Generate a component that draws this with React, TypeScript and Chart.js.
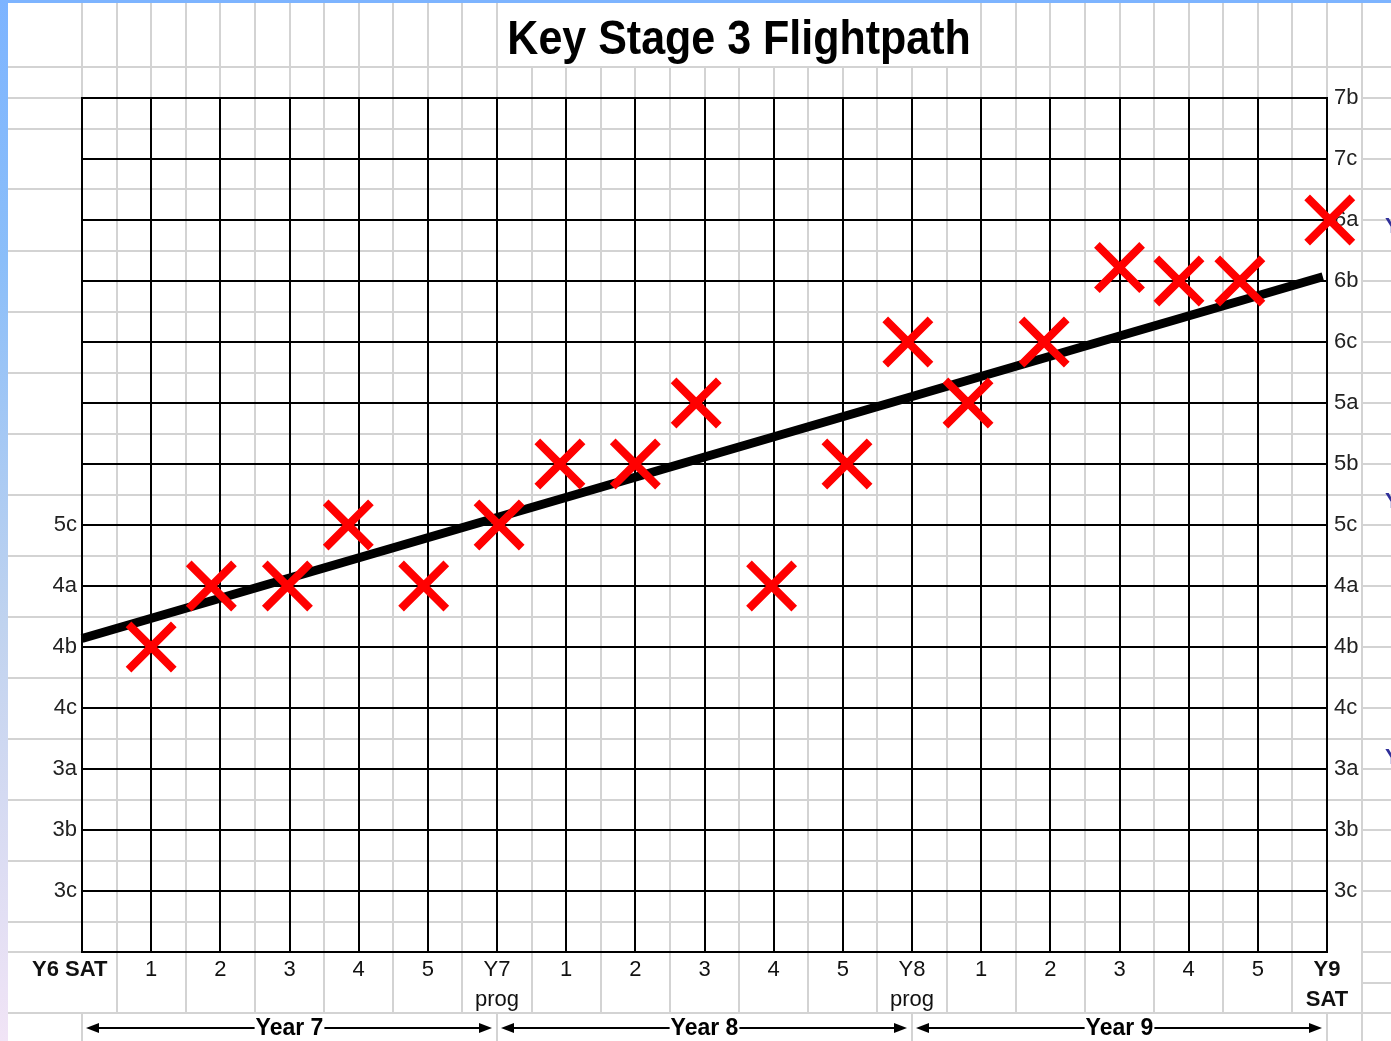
import React, { useEffect, useRef } from 'react';
import { Chart, registerables } from 'chart.js';

Chart.register(...registerables);

// ---------- data ----------
const chartTitle = 'Key Stage 3 Flightpath';
const xTickLabels: (string | string[])[] = [
  'Y6 SAT    ', '1', '2', '3', '4', '5', ['Y7', 'prog'],
  '1', '2', '3', '4', '5', ['Y8', 'prog'],
  '1', '2', '3', '4', '5', ['Y9', 'SAT'],
];
const boldTickIndexes = [0, 18];
// level label for each y gridline value (0 = bottom line)
const levelLabels = ['', '3c', '3b', '3a', '4c', '4b', '4a', '5c', '5b', '5a', '6c', '6b', '6a', '7c', '7b'];
const leftAxisMaxLevel = 7;
const assessmentX = [1.0, 1.87, 2.97, 3.85, 4.94, 6.03, 6.91, 8.0, 8.88, 9.97, 11.06, 11.94, 12.81, 13.91, 15.0, 15.86, 16.74, 18.04];
const assessmentY = [5, 6, 6, 7, 6, 7, 8, 8, 9, 6, 8, 10, 9, 10, 11.22, 11, 11, 12];
const targetX = [0, 17.94];
const targetY = [5.14, 11.07];
const yearBandLabels = ['Year 7', 'Year 8', 'Year 9'];
const yearBandStarts = [0, 6, 12];
const yearBandEnds = [6, 12, 18];

const FONT = "'Liberation Sans', Arial, Helvetica, sans-serif";

const sheetPlugin = {
  id: 'sheetBackground',
  beforeDraw(chart: any) {
    const { ctx, width, height } = chart;
    const xs = chart.scales.x;
    const ys = chart.scales.y;
    const X = (v: number) => xs.getPixelForValue(v);
    const Y = (v: number) => ys.getPixelForValue(v);
    ctx.save();
    ctx.fillStyle = '#ffffff';
    ctx.fillRect(0, 0, width, height);
    ctx.strokeStyle = '#d3d3d3';
    ctx.lineWidth = 2;
    const seg = (x1: number, y1: number, x2: number, y2: number) => {
      ctx.beginPath();
      ctx.moveTo(x1, y1);
      ctx.lineTo(x2, y2);
      ctx.stroke();
    };
    const titleL = X(6);
    const titleR = X(13);
    const topRowBottom = Y(14.5);
    const labelTop = Y(0);
    const labelBottom = Y(-1);
    // vertical sheet lines
    for (let i = 0; i < 200; i++) {
      const v = i / 2;
      const px = Math.round(X(v));
      if (px > width + 2) break;
      const isInt = i % 2 === 0;
      const inTitle = px > titleL + 2 && px < titleR - 2;
      const top = inTitle ? topRowBottom : 0;
      if (v > 18) {
        seg(px, top, px, height);
        continue;
      }
      if (isInt) {
        seg(px, top, px, labelTop);
        if (v % 6 === 0) seg(px, labelBottom, px, height);
      } else {
        seg(px, top, px, labelBottom);
      }
    }
    // horizontal sheet lines
    const x0 = X(0);
    const x18 = X(18);
    const x185 = X(18.5);
    for (let j = 0; j < 200; j++) {
      const w = 14.5 - j / 2;
      const py = Math.round(Y(w));
      if (py > height + 2) break;
      const isInt = Number.isInteger(w);
      if ((!isInt && w >= 0) || w === 0 || w === 14 || w === -1) seg(0, py, x0, py);
      if (w !== -0.5) seg(x0, py, x18, py);
      if ((!isInt && w >= 0) || w === -1) seg(x18, py, x185, py);
      seg(x185, py, width, py);
    }
    ctx.restore();
  },
  afterDraw(chart: any) {
    const { ctx, width, height } = chart;
    const xs = chart.scales.x;
    const ys = chart.scales.y;
    const X = (v: number) => xs.getPixelForValue(v);
    const Y = (v: number) => ys.getPixelForValue(v);
    ctx.save();
    // title
    ctx.fillStyle = '#000';
    ctx.font = `bold 43px ${FONT}`;
    ctx.textAlign = 'center';
    ctx.textBaseline = 'middle';
    ctx.save();
    ctx.translate((X(6) + X(13)) / 2, 41);
    ctx.scale(1, 1.12);
    ctx.fillText(chartTitle, 0, 0);
    ctx.restore();

    // year bands with arrows
    const ay = 1028;
    ctx.font = `bold 23px ${FONT}`;
    ctx.strokeStyle = '#000';
    ctx.lineWidth = 2;
    yearBandLabels.forEach((label, i) => {
      const pa = X(yearBandStarts[i]) + 4;
      const pb = X(yearBandEnds[i]) - 5;
      const cx = (X(yearBandStarts[i]) + X(yearBandEnds[i])) / 2;
      const tw = ctx.measureText(label).width;
      ctx.beginPath();
      ctx.moveTo(pa + 10, ay);
      ctx.lineTo(cx - tw / 2 - 1, ay);
      ctx.moveTo(cx + tw / 2 + 1, ay);
      ctx.lineTo(pb - 10, ay);
      ctx.stroke();
      ctx.beginPath();
      ctx.moveTo(pa, ay);
      ctx.lineTo(pa + 13, ay - 5);
      ctx.lineTo(pa + 13, ay + 5);
      ctx.closePath();
      ctx.fill();
      ctx.beginPath();
      ctx.moveTo(pb, ay);
      ctx.lineTo(pb - 13, ay - 5);
      ctx.lineTo(pb - 13, ay + 5);
      ctx.closePath();
      ctx.fill();
      ctx.fillText(label, cx, ay + 1);
    });

    // cut-off glyphs at the right edge
    ctx.fillStyle = '#2f2f9a';
    ctx.font = `bold 22px ${FONT}`;
    ctx.textAlign = 'left';
    ctx.textBaseline = 'top';
    [12, 7.5, 3.3].forEach((v) => ctx.fillText('Y', 1385, Y(v) - 4));

    // blue window border
    ctx.fillStyle = '#7db4ff';
    ctx.fillRect(0, 0, width, 3);
    const g = ctx.createLinearGradient(0, 0, 0, height);
    g.addColorStop(0, '#7db4ff');
    g.addColorStop(0.25, '#8bbef9');
    g.addColorStop(0.6, '#c0d3ef');
    g.addColorStop(1, '#f1e4f6');
    ctx.fillStyle = g;
    ctx.fillRect(0, 0, 8, height);
    ctx.restore();
  },
};

export default function App() {
  const canvasRef = useRef<HTMLCanvasElement | null>(null);

  useEffect(() => {
    const canvas = canvasRef.current;
    if (!canvas) return;
    const chart = new Chart(canvas, {
      type: 'line',
      data: {
        datasets: [
          {
            label: 'Assessments',
            data: assessmentX.map((x, i) => ({ x, y: assessmentY[i] })),
            showLine: false,
            pointStyle: 'crossRot',
            pointRadius: 32,
            pointHoverRadius: 32,
            pointBorderWidth: 8,
            pointBorderColor: '#ff0000',
            pointBackgroundColor: '#ff0000',
            borderColor: '#ff0000',
            clip: false as any,
          },
          {
            label: 'Flightpath',
            data: targetX.map((x, i) => ({ x, y: targetY[i] })),
            borderColor: '#000000',
            borderWidth: 9,
            borderCapStyle: 'butt',
            pointRadius: 0,
            pointHoverRadius: 0,
            fill: false,
            clip: false as any,
          },
        ],
      },
      options: {
        responsive: false,
        animation: false,
        events: [],
        layout: { padding: { top: 98, left: 0, right: 0, bottom: 0 } },
        plugins: {
          legend: { display: false },
          tooltip: { enabled: false },
          title: { display: false },
        },
        scales: {
          x: {
            type: 'linear',
            min: 0,
            max: 18,
            afterFit: (scale: any) => { scale.height = 89; },
            grid: { color: '#000', lineWidth: 2, drawTicks: false },
            border: { color: '#000', width: 2 },
            ticks: {
              stepSize: 1,
              autoSkip: false,
              maxRotation: 0,
              minRotation: 0,
              padding: 3,
              color: '#111',
              font: (c: any) => ({
                family: FONT,
                size: 22,
                lineHeight: 1.36,
                weight: boldTickIndexes.includes(Math.round(c.tick ? c.tick.value : c.index)) ? 'bold' : 'normal',
              }),
              callback: (value: any) => xTickLabels[Math.round(Number(value))] ?? '',
            },
          },
          y: {
            type: 'linear',
            position: 'left',
            min: 0,
            max: 14,
            afterFit: (scale: any) => { scale.width = 82; },
            grid: { color: '#000', lineWidth: 2, drawTicks: false },
            border: { color: '#000', width: 2 },
            ticks: {
              stepSize: 1,
              autoSkip: false,
              padding: 5,
              color: '#222',
              font: { family: FONT, size: 22 },
              callback: (value: any) => {
                const v = Math.round(Number(value));
                return v <= leftAxisMaxLevel ? levelLabels[v] ?? '' : '';
              },
            },
          },
          y2: {
            type: 'linear',
            position: 'right',
            min: 0,
            max: 14,
            afterFit: (scale: any) => { scale.width = 64; },
            grid: { display: false, drawTicks: false },
            border: { color: '#000', width: 2 },
            ticks: {
              stepSize: 1,
              autoSkip: false,
              padding: 7,
              color: '#222',
              font: { family: FONT, size: 22 },
              callback: (value: any) => levelLabels[Math.round(Number(value))] ?? '',
            },
          },
        },
      },
      plugins: [sheetPlugin],
    });
    return () => chart.destroy();
  }, []);

  return (
    <div style={{ position: 'absolute', left: 0, top: 0, width: 1391, height: 1041, overflow: 'hidden' }}>
      <canvas ref={canvasRef} width={1391} height={1041} style={{ display: 'block' }} />
    </div>
  );
}
